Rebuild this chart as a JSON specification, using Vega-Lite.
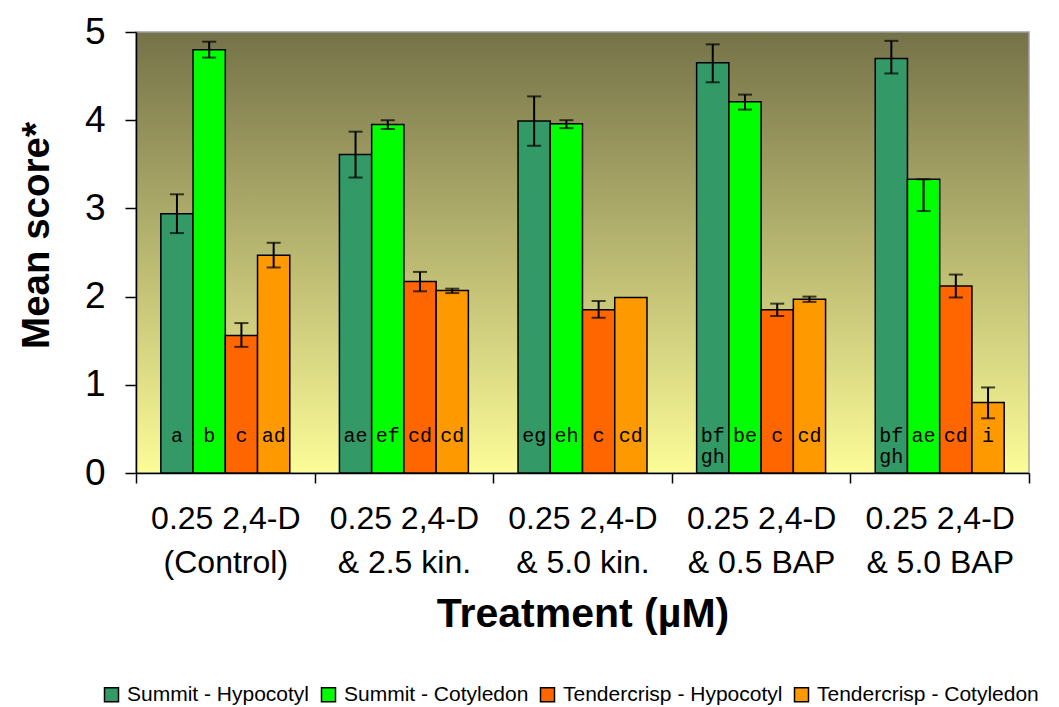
{
  "$schema": "https://vega.github.io/schema/vega-lite/v6.json",
  "width": 893,
  "height": 441,
  "autosize": {"type": "none"},
  "padding": {"left": 136, "top": 32, "right": 30, "bottom": 234},
  "background": "white",
  "view": {
    "stroke": "#a0a0a0",
    "strokeWidth": 1.5,
    "fill": {
      "gradient": "linear",
      "x1": 0, "y1": 0, "x2": 0, "y2": 1,
      "stops": [
        {"offset": 0, "color": "#757249"},
        {"offset": 1, "color": "#fcfc98"}
      ]
    }
  },
  "data": {
    "values": [
      {"treatment": "0.25 2,4-D|(Control)", "series": "Summit - Hypocotyl", "value": 2.94, "lo": 2.72, "hi": 3.16, "label": "a"},
      {"treatment": "0.25 2,4-D|(Control)", "series": "Summit - Cotyledon", "value": 4.80, "lo": 4.71, "hi": 4.89, "label": "b"},
      {"treatment": "0.25 2,4-D|(Control)", "series": "Tendercrisp - Hypocotyl", "value": 1.56, "lo": 1.43, "hi": 1.70, "label": "c"},
      {"treatment": "0.25 2,4-D|(Control)", "series": "Tendercrisp - Cotyledon", "value": 2.47, "lo": 2.33, "hi": 2.61, "label": "ad"},
      {"treatment": "0.25 2,4-D|& 2.5 kin.", "series": "Summit - Hypocotyl", "value": 3.61, "lo": 3.35, "hi": 3.87, "label": "ae"},
      {"treatment": "0.25 2,4-D|& 2.5 kin.", "series": "Summit - Cotyledon", "value": 3.95, "lo": 3.90, "hi": 4.00, "label": "ef"},
      {"treatment": "0.25 2,4-D|& 2.5 kin.", "series": "Tendercrisp - Hypocotyl", "value": 2.17, "lo": 2.06, "hi": 2.28, "label": "cd"},
      {"treatment": "0.25 2,4-D|& 2.5 kin.", "series": "Tendercrisp - Cotyledon", "value": 2.07, "lo": 2.04, "hi": 2.09, "label": "cd"},
      {"treatment": "0.25 2,4-D|& 5.0 kin.", "series": "Summit - Hypocotyl", "value": 3.99, "lo": 3.71, "hi": 4.27, "label": "eg"},
      {"treatment": "0.25 2,4-D|& 5.0 kin.", "series": "Summit - Cotyledon", "value": 3.96, "lo": 3.91, "hi": 4.00, "label": "eh"},
      {"treatment": "0.25 2,4-D|& 5.0 kin.", "series": "Tendercrisp - Hypocotyl", "value": 1.85, "lo": 1.76, "hi": 1.95, "label": "c"},
      {"treatment": "0.25 2,4-D|& 5.0 kin.", "series": "Tendercrisp - Cotyledon", "value": 1.99, "lo": null, "hi": null, "label": "cd"},
      {"treatment": "0.25 2,4-D|& 0.5 BAP", "series": "Summit - Hypocotyl", "value": 4.65, "lo": 4.43, "hi": 4.86, "label": "bf\ngh"},
      {"treatment": "0.25 2,4-D|& 0.5 BAP", "series": "Summit - Cotyledon", "value": 4.21, "lo": 4.12, "hi": 4.29, "label": "be"},
      {"treatment": "0.25 2,4-D|& 0.5 BAP", "series": "Tendercrisp - Hypocotyl", "value": 1.85, "lo": 1.78, "hi": 1.92, "label": "c"},
      {"treatment": "0.25 2,4-D|& 0.5 BAP", "series": "Tendercrisp - Cotyledon", "value": 1.97, "lo": 1.94, "hi": 2.00, "label": "cd"},
      {"treatment": "0.25 2,4-D|& 5.0 BAP", "series": "Summit - Hypocotyl", "value": 4.70, "lo": 4.53, "hi": 4.90, "label": "bf\ngh"},
      {"treatment": "0.25 2,4-D|& 5.0 BAP", "series": "Summit - Cotyledon", "value": 3.33, "lo": 2.97, "hi": 3.33, "label": "ae"},
      {"treatment": "0.25 2,4-D|& 5.0 BAP", "series": "Tendercrisp - Hypocotyl", "value": 2.12, "lo": 1.99, "hi": 2.25, "label": "cd"},
      {"treatment": "0.25 2,4-D|& 5.0 BAP", "series": "Tendercrisp - Cotyledon", "value": 0.80, "lo": 0.62, "hi": 0.97, "label": "i"}
    ]
  },
  "encoding": {
    "x": {
      "field": "treatment",
      "type": "nominal",
      "sort": null,
      "scale": {"paddingInner": 0, "paddingOuter": 0},
      "axis": {
        "title": "Treatment (µM)",
        "titleFont": "Liberation Sans",
        "titleFontSize": 41,
        "titleFontWeight": "bold",
        "titleColor": "black",
        "titlePadding": 16,
        "labelExpr": "split(datum.label, '|')",
        "labelFont": "Liberation Sans",
        "labelFontSize": 32,
        "labelColor": "black",
        "labelLineHeight": 44,
        "labelAngle": 0,
        "labelPadding": 20,
        "tickBand": "extent",
        "tickSize": 10,
        "tickColor": "black",
        "tickWidth": 1.5,
        "domainColor": "black",
        "domainWidth": 1.5
      }
    },
    "xOffset": {
      "field": "series",
      "type": "nominal",
      "sort": ["Summit - Hypocotyl", "Summit - Cotyledon", "Tendercrisp - Hypocotyl", "Tendercrisp - Cotyledon"],
      "scale": {"paddingInner": 0, "paddingOuter": 0.77}
    }
  },
  "layer": [
    {
      "mark": {"type": "bar", "stroke": "black", "strokeWidth": 1.5},
      "encoding": {
        "y": {
          "field": "value",
          "type": "quantitative",
          "scale": {"domain": [0, 5], "nice": false},
          "axis": {
            "title": "Mean score*",
            "titleFont": "Liberation Sans",
            "titleFontSize": 38.5,
            "titleFontWeight": "bold",
            "titleColor": "black",
            "titlePadding": 28,
            "titleY": 203,
            "labelFont": "Liberation Sans",
            "labelFontSize": 37,
            "labelColor": "black",
            "labelPadding": 20,
            "format": "d",
            "values": [0, 1, 2, 3, 4, 5],
            "grid": false,
            "tickSize": 11,
            "tickColor": "black",
            "tickWidth": 1.5,
            "domainColor": "black",
            "domainWidth": 1.5
          }
        },
        "color": {
          "field": "series",
          "type": "nominal",
          "scale": {
            "domain": ["Summit - Hypocotyl", "Summit - Cotyledon", "Tendercrisp - Hypocotyl", "Tendercrisp - Cotyledon"],
            "range": ["#339966", "#00ff00", "#ff6600", "#ff9900"]
          },
          "legend": {
            "title": null,
            "orient": "none",
            "direction": "horizontal",
            "legendX": -35,
            "legendY": 652,
            "symbolType": "square",
            "symbolSize": 196,
            "symbolStrokeColor": "black",
            "symbolStrokeWidth": 1.5,
            "symbolOpacity": 1,
            "labelFont": "Liberation Sans",
            "labelFontSize": 21,
            "labelColor": "black",
            "labelLimit": 500,
            "labelOffset": 5,
            "columnPadding": 8
          }
        }
      }
    },
    {
      "mark": {"type": "rule", "color": "black", "strokeWidth": 2},
      "encoding": {
        "y": {"field": "lo", "type": "quantitative"},
        "y2": {"field": "hi"}
      }
    },
    {
      "mark": {"type": "tick", "color": "black", "thickness": 2, "size": 14},
      "encoding": {"y": {"field": "lo", "type": "quantitative"}}
    },
    {
      "mark": {"type": "tick", "color": "black", "thickness": 2, "size": 14},
      "encoding": {"y": {"field": "hi", "type": "quantitative"}}
    },
    {
      "mark": {"type": "text", "font": "Liberation Mono", "fontSize": 20, "color": "black", "baseline": "top", "lineBreak": "\n", "lineHeight": 21},
      "encoding": {
        "y": {"datum": 0.53},
        "text": {"field": "label", "type": "nominal"}
      }
    }
  ]
}
